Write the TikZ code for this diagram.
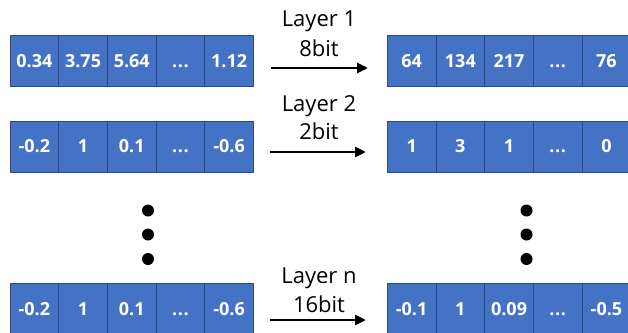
\documentclass[tikz,border=0pt]{standalone}
\usepackage{fontspec}
\setmainfont{Open Sans}
\usetikzlibrary{arrows.meta}
\definecolor{cellblue}{HTML}{4472C4}
\definecolor{celledge}{HTML}{2F4A80}
\tikzset{
  cell/.style={draw=celledge, fill=cellblue, line width=0.8pt,
    minimum width=48.7pt, minimum height=51pt, inner sep=0pt,
    text height=12.9pt, text depth=0pt,
    text=white, font=\bfseries\fontsize{18}{18}\selectfont},
  lbl/.style={font=\fontsize{22}{22}\selectfont, inner sep=0pt},
  arr/.style={line width=2.8pt, -{Triangle[length=11pt,width=10pt]}},
  dot/.style={circle, fill=black, minimum size=12pt, inner sep=0pt}
}
% three baseline dots standing for omitted entries
\newcommand{\omitdots}{.\kern0.6pt.\kern0.6pt.}
% one row of five cells; #1 name prefix, #2 left x, #3 centre y, #4..#8 entries
\newcommand{\cellrow}[8]{%
  \node[cell] (#1a) at (#2+24.35,#3) {#4};
  \node[cell] (#1b) at (#2+73.05,#3) {#5};
  \node[cell] (#1c) at (#2+121.75,#3) {#6};
  \node[cell] (#1d) at (#2+170.45,#3) {#7};
  \node[cell] (#1e) at (#2+219.15,#3) {#8};
}
\begin{document}
\begin{tikzpicture}[x=1pt, y=-1pt]
  \useasboundingbox (0,0) rectangle (628,332);
  \clip (0,0) rectangle (628,332);

  % input rows
  \cellrow{La}{10}{61}{0.34}{3.75}{5.64}{\omitdots}{1.12}
  \cellrow{Lb}{10}{146.5}{-0.2}{1}{0.1}{\omitdots}{-0.6}
  \cellrow{Ln}{10}{308.8}{-0.2}{1}{0.1}{\omitdots}{-0.6}

  % quantized rows
  \cellrow{Ra}{387.3}{61}{64}{134}{217}{\omitdots}{76}
  \cellrow{Rb}{387.3}{146.5}{1}{3}{1}{\omitdots}{0}
  \cellrow{Rn}{387.3}{308.8}{-0.1}{1}{0.09}{\omitdots}{-0.5}

  % arrows with layer labels
  \coordinate (a1s) at (271,68);  \coordinate (a1t) at (368,68);
  \coordinate (a2s) at (270,152); \coordinate (a2t) at (366,152);
  \coordinate (ans) at (270,320); \coordinate (ant) at (366,320);
  \draw[arr] (a1s) -- (a1t);
  \draw[arr] (a2s) -- (a2t);
  \draw[arr] (ans) -- (ant);

  \node[lbl] (t1a) at (319,21) {Layer 1};
  \node[lbl] (t1b) at (319,48) {8bit};
  \node[lbl] (t2a) at (319,106) {Layer 2};
  \node[lbl] (t2b) at (319,131) {2bit};
  \node[lbl] (tna) at (319,278) {Layer n};
  \node[lbl] (tnb) at (319,304) {16bit};

  % vertical ellipsis between rows
  \foreach \yy/\k in {210.5/1,234.5/2,259/3} {
    \node[dot] (dl\k) at (148,\yy) {};
    \node[dot] (dr\k) at (526.5,\yy) {};
  }
\end{tikzpicture}
\end{document}
